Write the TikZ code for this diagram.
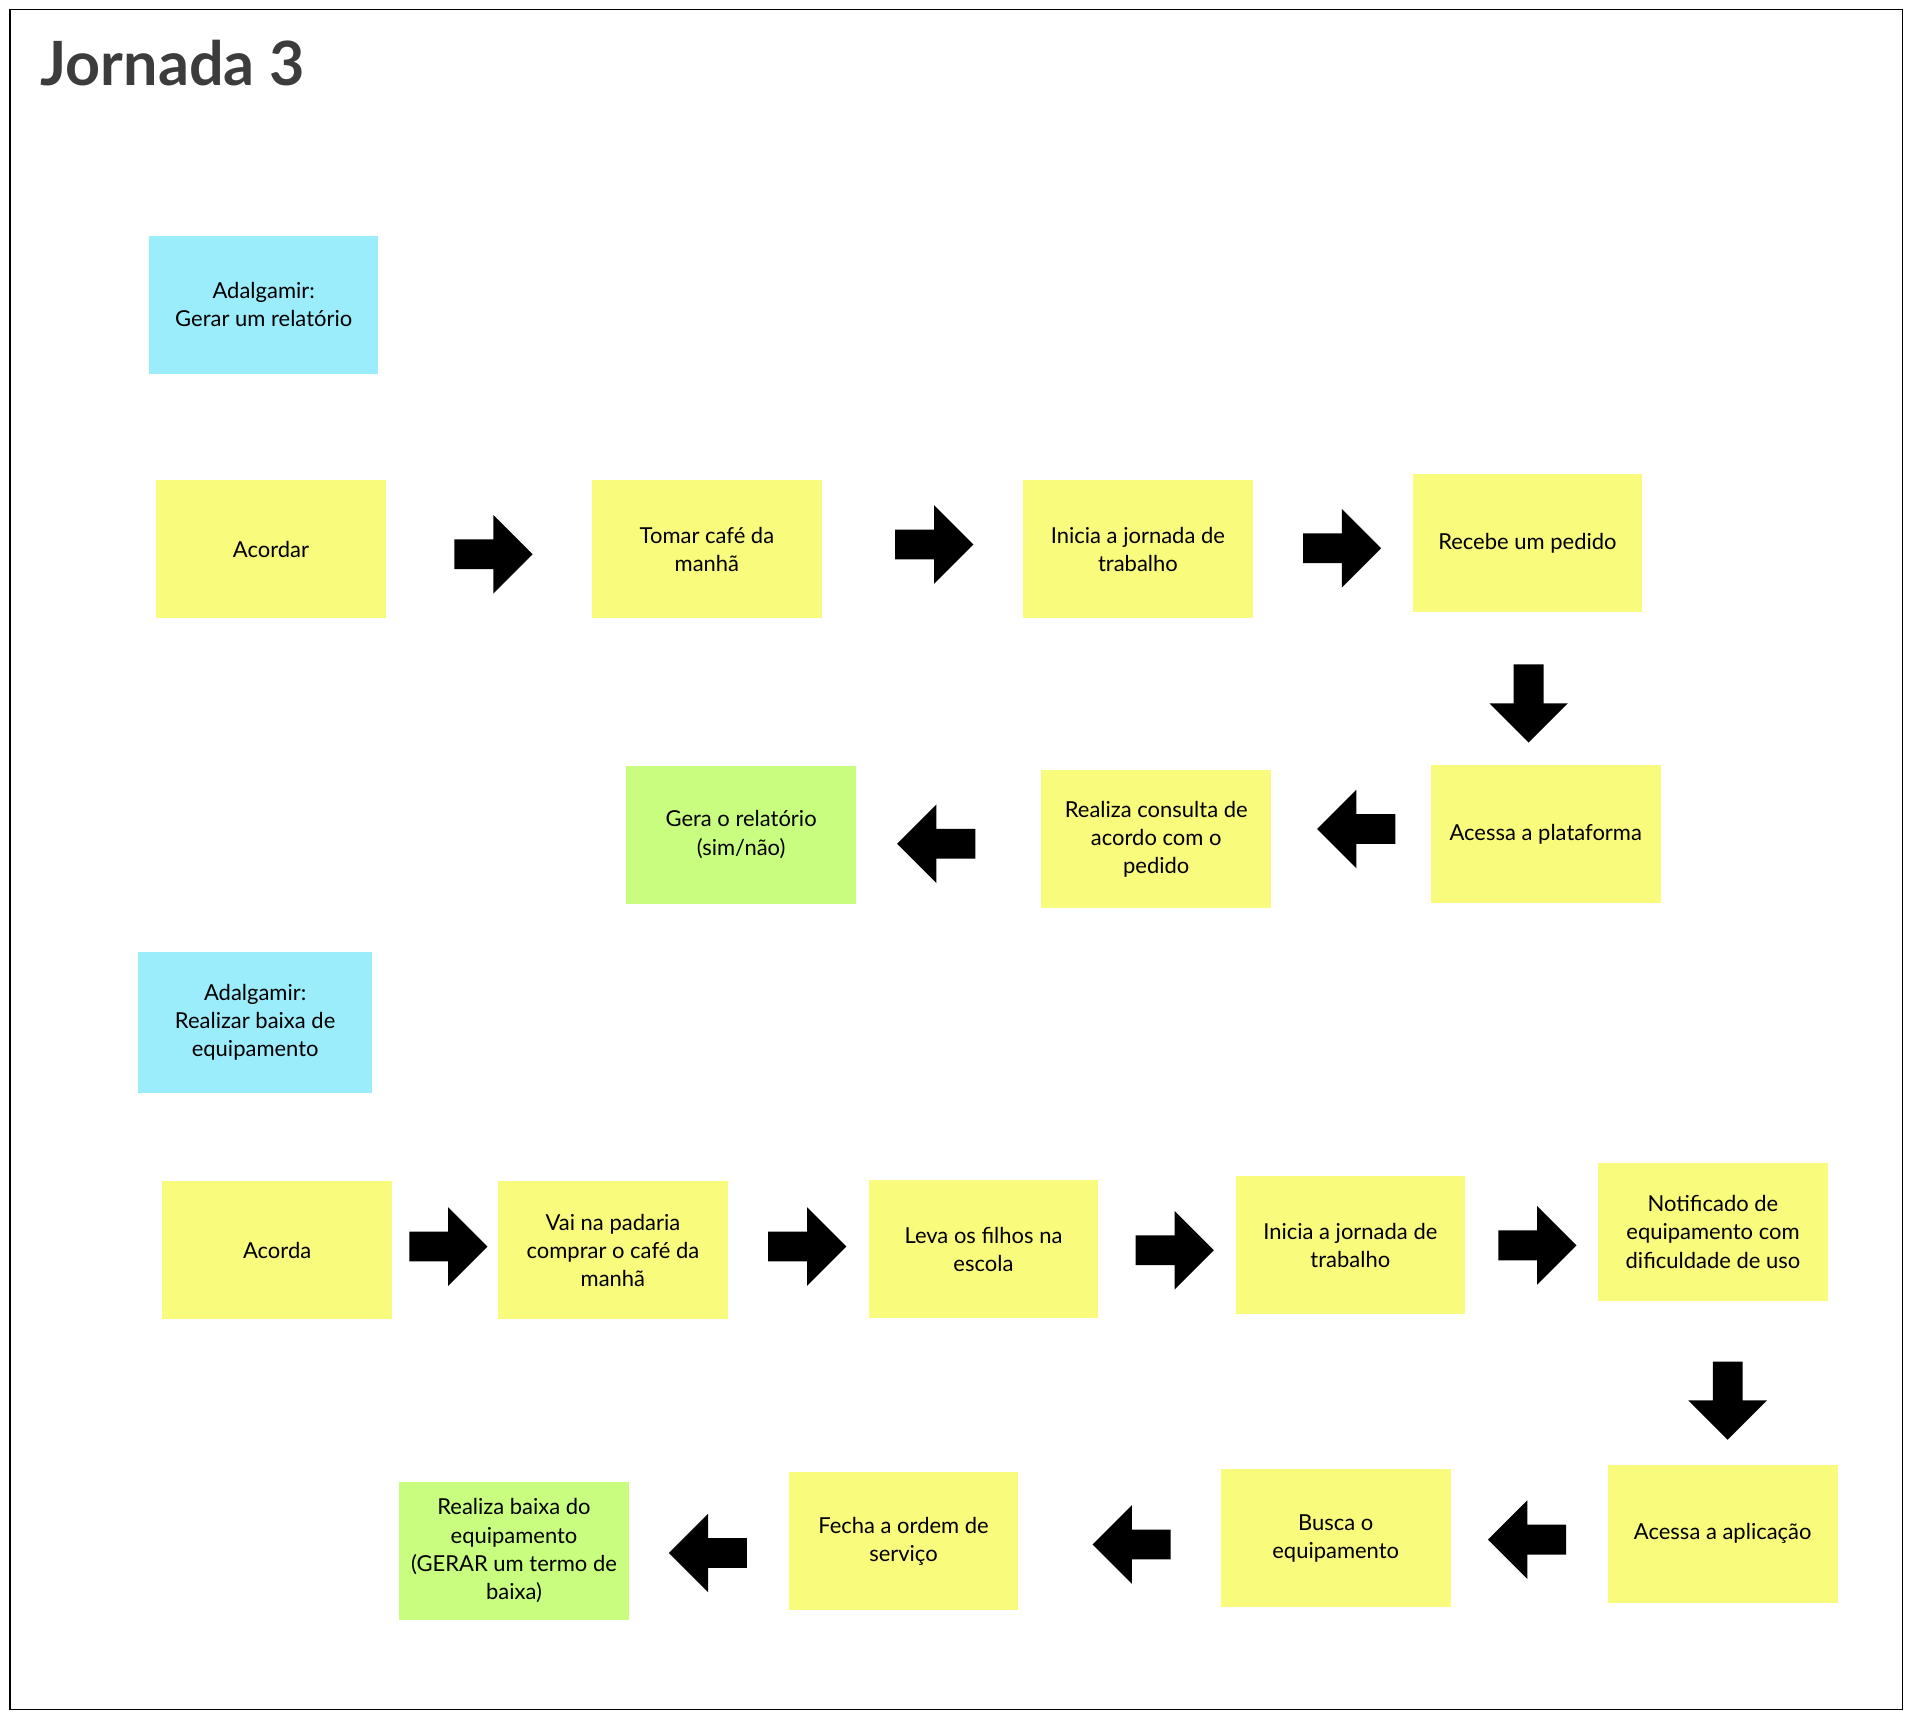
\documentclass[tikz,border=0pt]{standalone}
\usepackage{fontspec}
\setmainfont{Lato}
\usepackage{xcolor}
\usepackage{tikz}
\usetikzlibrary{shapes,shapes.arrows}
\definecolor{ny}{HTML}{F9FB7D}
\definecolor{nb}{HTML}{9CEDFC}
\definecolor{ng}{HTML}{C9FD7F}
\definecolor{tgray}{HTML}{3C3C3C}
\tikzset{
  note/.style = {rectangle, inner sep=0pt, align=center, text centered, minimum width=188pt, minimum height=113pt, font=\fontsize{18}{23}\selectfont},
  note_y/.style = {note, fill=ny},
  note_b/.style = {note, fill=nb},
  note_g/.style = {note, fill=ng},
  blk_arrow/.style = {single arrow, fill=black, anchor=tail, inner xsep=0pt, inner ysep=12pt, minimum height=64pt, single arrow head extend=20pt, single arrow tip angle=90}
}
\begin{document}
\begin{tikzpicture}[x=1pt,y=-1pt]
			\useasboundingbox (0,0) rectangle (1566,1407);
			\draw[line width=1.2pt] (8,8) rectangle (1558,1400);
			\node[anchor=base west, inner sep=0pt, text=tgray, font=\fontsize{50}{50}\selectfont\bfseries] (title) at (33,70) {Jornada 3};
			% jornada: gerar relatorio
			\node[note_b] (p1) at (216,249.5) {Adalgamir:\\Gerar um relatório};
			\node[note_y] (r1a) at (222,450) {Acordar};
			\node[note_y] (r1b) at (579,450) {Tomar café da\\manhã};
			\node[note_y] (r1c) at (932,450) {Inicia a jornada de\\trabalho};
			\node[note_y] (r1d) at (1251,445) {Recebe um pedido};
			\node[note_y] (r2a) at (1266,683) {Acessa a plataforma};
			\node[note_y] (r2b) at (947,687.5) {Realiza consulta de\\acordo com o\\pedido};
			\node[note_g] (r2c) at (607,683.5) {Gera o relatório\\(sim/não)};
			\node[blk_arrow] (ar1) at (372,454) {};
			\node[blk_arrow] (ar2) at (733,446) {};
			\node[blk_arrow] (ar3) at (1067,449) {};
			\node[blk_arrow, rotate=-90] (ar4) at (1252,544) {};
			\node[blk_arrow, rotate=180] (ar5) at (1143,679) {};
			\node[blk_arrow, rotate=180] (ar6) at (799,691) {};
			% jornada: baixa de equipamento
			\node[note_b, minimum width=192pt, minimum height=115pt] (p2) at (209,837.5) {Adalgamir:\\Realizar baixa de\\equipamento};
			\node[note_y] (r3a) at (227,1024) {Acorda};
			\node[note_y] (r3b) at (502,1024) {Vai na padaria\\comprar o café da\\manhã};
			\node[note_y] (r3c) at (805.5,1023) {Leva os filhos na\\escola};
			\node[note_y] (r3d) at (1106,1020) {Inicia a jornada de\\trabalho};
			\node[note_y] (r3e) at (1403,1009) {Notificado de\\equipamento com\\dificuldade de uso};
			\node[note_y] (r4a) at (1411,1256) {Acessa a aplicação};
			\node[note_y] (r4b) at (1094,1260) {Busca o\\equipamento};
			\node[note_y] (r4c) at (740,1262.5) {Fecha a ordem de\\serviço};
			\node[note_g] (r4d) at (421,1270) {Realiza baixa do\\equipamento\\(GERAR um termo de\\baixa)};
			\node[blk_arrow] (ar7) at (335,1021) {};
			\node[blk_arrow] (ar8) at (629,1021) {};
			\node[blk_arrow] (ar9) at (930,1024) {};
			\node[blk_arrow] (ar10) at (1227,1020) {};
			\node[blk_arrow, rotate=-90] (ar11) at (1415,1115) {};
			\node[blk_arrow, rotate=180] (ar12) at (1283,1261) {};
			\node[blk_arrow, rotate=180] (ar13) at (959,1265) {};
			\node[blk_arrow, rotate=180] (ar14) at (612,1272) {};
\end{tikzpicture}
\end{document}
